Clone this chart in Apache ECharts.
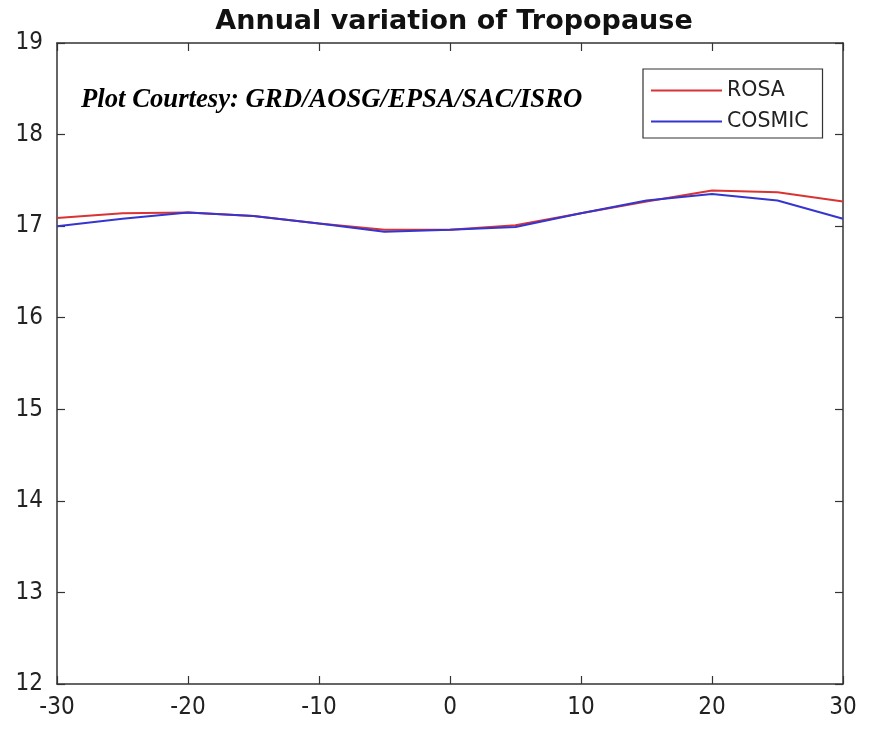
<!DOCTYPE html>
<html><head><meta charset="utf-8">
<script src="https://cdn.jsdelivr.net/npm/echarts@6/dist/echarts.min.js"></script>
<style>html,body{margin:0;padding:0;background:#fff}#c{width:885px;height:735px}</style>
</head><body><div id="c"></div>
<script>
const latitudes = [-30,-25,-20,-15,-10,-5,0,5,10,15,20,25,30];
const rosa   = [17.09,17.14,17.15,17.11,17.03,16.96,16.96,17.01,17.14,17.27,17.39,17.37,17.27];
const cosmic = [17.00,17.08,17.15,17.11,17.03,16.94,16.96,16.99,17.14,17.28,17.35,17.28,17.08];
const xTicks = [-30,-20,-10,0,10,20,30];
const yTicks = [12,13,14,15,16,17,18,19];

const chart = echarts.init(document.getElementById('c'));
const font = '"DejaVu Sans Condensed", "DejaVu Sans"';
const axisLine = {show:true, onZero:false, lineStyle:{color:'#333', width:1.5}};
const tick = {show:true, inside:true, length:8, lineStyle:{color:'#333', width:1.2}};
chart.setOption({
  animation:false,
  title:{text:'Annual variation of Tropopause', left:449, top:3, textAlign:'center',
    textStyle:{fontFamily:'"DejaVu Sans"', fontWeight:'bold', fontSize:27, color:'#111'}},
  graphic:[{type:'text', left:81, top:87,
    style:{text:'Plot Courtesy: GRD/AOSG/EPSA/SAC/ISRO', fontFamily:'"Liberation Serif"',
      fontStyle:'italic', fontWeight:'bold', fontSize:26.7, fill:'#000'}}],
  legend:{left:643, top:69, orient:'vertical', itemWidth:71, itemHeight:2, itemGap:10,
    borderColor:'#333', borderWidth:1.2, padding:[11,14,6,8],
    textStyle:{fontFamily:'"DejaVu Sans"', fontSize:20.5, color:'#222'},
    icon:'rect', data:['ROSA','COSMIC']},
  grid:{left:57, right:42, top:43, bottom:51},
  xAxis:[{type:'value', min:-30, max:30, interval:10, position:'bottom',
    axisLine, axisTick:tick,
    axisLabel:{fontFamily:font, fontSize:24, color:'#222', margin:12},
    splitLine:{show:false}},
   {type:'value', min:-30, max:30, interval:10, position:'top',
    axisLine, axisTick:tick, axisLabel:{show:false}, splitLine:{show:false}}],
  yAxis:[{type:'value', min:12, max:19, interval:1, position:'left',
    axisLine, axisTick:tick,
    axisLabel:{fontFamily:font, fontSize:24, color:'#222', margin:14},
    splitLine:{show:false}},
   {type:'value', min:12, max:19, interval:1, position:'right',
    axisLine, axisTick:tick, axisLabel:{show:false}, splitLine:{show:false}}],
  series:[
    {name:'ROSA', type:'line', data:latitudes.map((x,i)=>[x,rosa[i]]), showSymbol:false,
      lineStyle:{color:'#d93333', width:2}, itemStyle:{color:'#d93333'}},
    {name:'COSMIC', type:'line', data:latitudes.map((x,i)=>[x,cosmic[i]]), showSymbol:false,
      lineStyle:{color:'#3535d0', width:2}, itemStyle:{color:'#3535d0'}}
  ]
});
</script></body></html>
